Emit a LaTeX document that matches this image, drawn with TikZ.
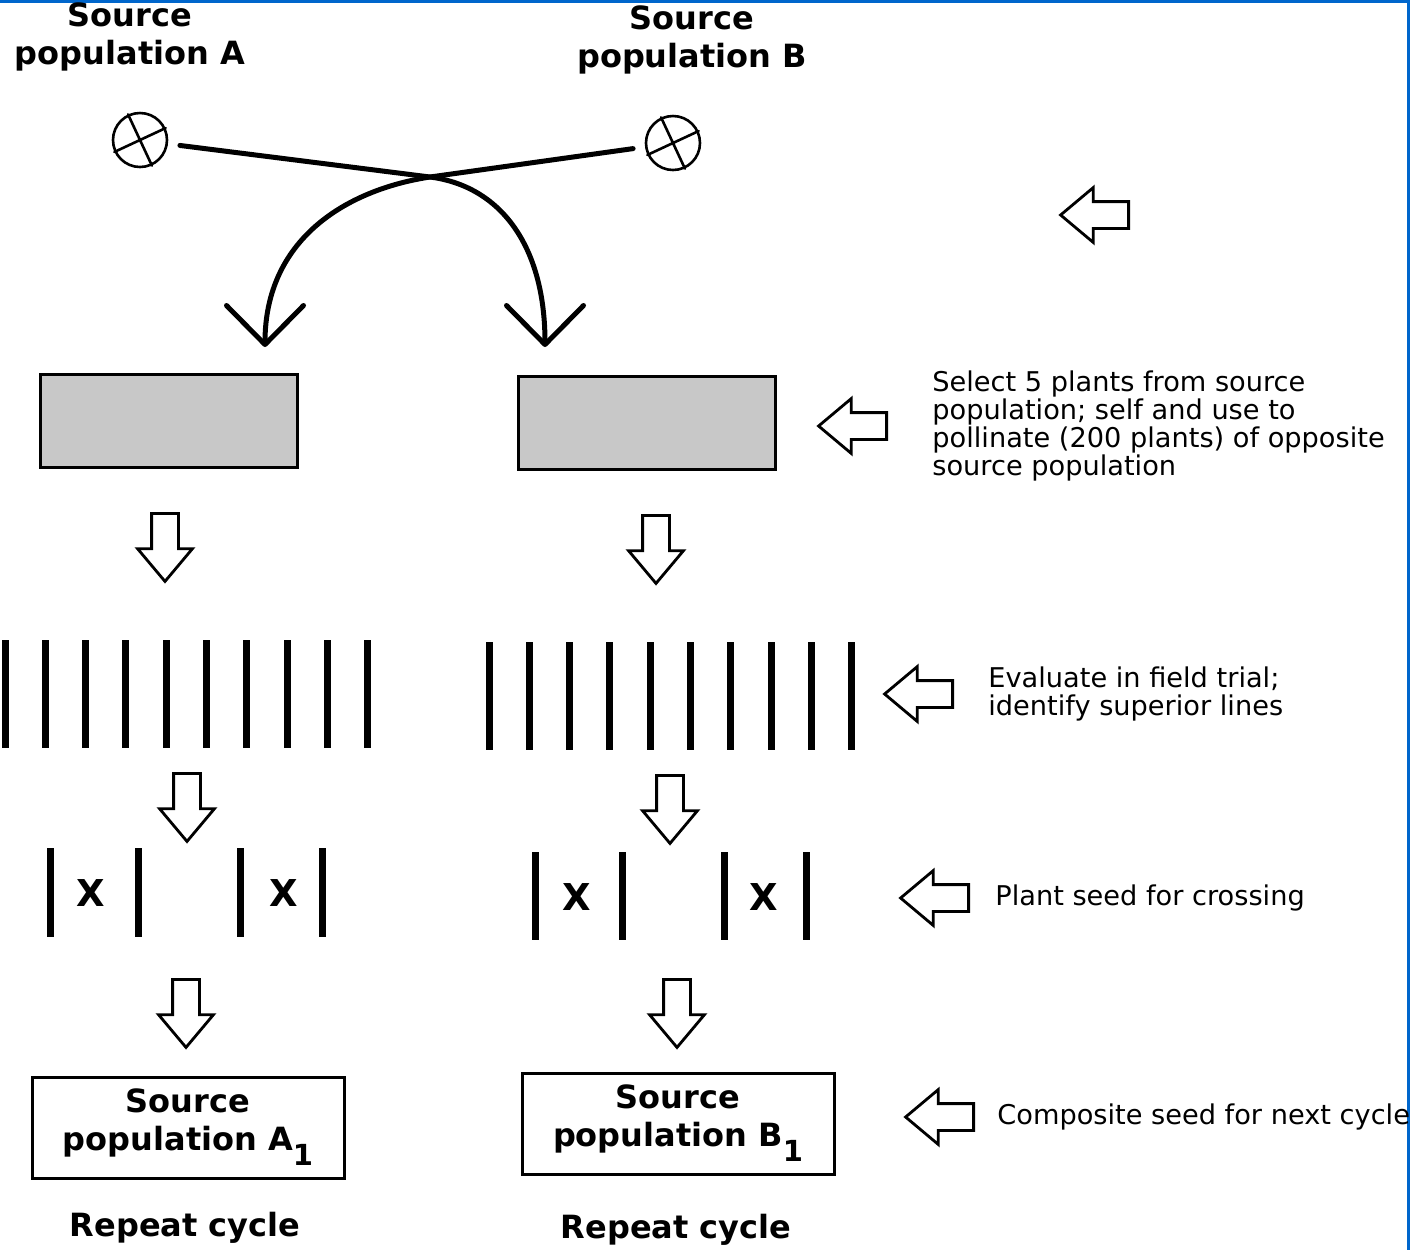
\documentclass[tikz,border=0pt]{standalone}
\usepackage{xcolor}
\usepackage{fontspec}
\setmainfont{DejaVu Sans}
\usepackage{tikz}
\usetikzlibrary{arrows.meta, positioning, shapes.arrows}

\definecolor{boxgray}{RGB}{200,200,200}
\definecolor{frameblue}{RGB}{0,102,204}

\begin{document}
\begin{tikzpicture}[x=0.5pt, y=-0.5pt, line cap=round,
    heading/.style={font=\bfseries\fontsize{16}{19}\selectfont, align=center, inner sep=0pt},
    note/.style={font=\fontsize{13.6}{14}\selectfont, align=left, inner sep=0pt},
    selfed/.style={circle, draw, line width=1.3pt, minimum size=27pt, inner sep=0pt},
    seedbox/.style={draw, fill=boxgray, line width=1.5pt, minimum width=128.5pt, minimum height=46.5pt, inner sep=0pt},
    popbox/.style={draw, line width=1.5pt, minimum width=156pt, minimum height=50.5pt, inner sep=0pt, heading},
    hollow/.style={single arrow, draw, line width=1.4pt, inner sep=6pt, minimum height=34pt, single arrow head extend=7pt, single arrow tip angle=80, anchor=tail},
    downarrow/.style={hollow, shape border rotate=270},
    sidearrow/.style={hollow, shape border rotate=180},
    bar/.style={line width=3.5pt, line cap=butt},
    pollen/.style={line width=2.5pt, shorten <=6pt, -{Straight Barb[round, length=19.5pt, width=38.5pt]}},
    crossmark/.style={font=\bfseries\fontsize{18.5}{18.5}\selectfont, inner sep=0pt}]
    \useasboundingbox (0,0) rectangle (1410,1250);

    % frame lines
    \draw[frameblue, line width=1.5pt, line cap=butt] (0,1.5) -- (1410,1.5);
    \draw[frameblue, line width=1.5pt, line cap=butt] (1408.5,0) -- (1408.5,1250);

    \node[heading] (titleA) at (130,37) {Source\\population A};
    \node[heading] (titleB) at (692,40) {Source\\population B};

    \node[selfed] (crossA) at (140,140) {};
    \node[selfed] (crossB) at (673,143) {};
    \draw[line width=1.3pt] (crossA.115) -- (crossA.-65) (crossA.25) -- (crossA.205);
    \draw[line width=1.3pt] (crossB.115) -- (crossB.-65) (crossB.25) -- (crossB.205);

    \node[seedbox] (boxA) at (169,420.5) {};
    \node[seedbox] (boxB) at (646.5,422.5) {};

    \coordinate (meet) at (430,177);
    \coordinate (tipA) at (265,347);
    \coordinate (tipB) at (545,347);
    \draw[pollen] (crossA.-8) -- (meet) .. controls (500,186) and (545,245) .. (tipB);
    \draw[pollen] (crossB.188) -- (meet) .. controls (345,190) and (265,240) .. (tipA);

    % down arrows
    \node[downarrow] (dA1) at (165,512) {};
    \node[downarrow] (dB1) at (656,514) {};
    \node[downarrow] (dA2) at (187,772) {};
    \node[downarrow] (dB2) at (670,774) {};
    \node[downarrow] (dA3) at (186,978) {};
    \node[downarrow] (dB3) at (677,978) {};

    % field trial rows
    \foreach \i in {0,...,9} {
        \draw[bar] (5+40.3*\i,640) -- ++(0,108);
        \draw[bar] (489+40.3*\i,642) -- ++(0,108);
    }

    % crossing pairs
    \foreach \x in {50,138,240,322} \draw[bar] (\x,848) -- ++(0,89);
    \foreach \x in {535,622,724,806} \draw[bar] (\x,852) -- ++(0,88);
    \node[crossmark] (xA1) at (91,893) {X};
    \node[crossmark] (xA2) at (284,893) {X};
    \node[crossmark] (xB1) at (577,897) {X};
    \node[crossmark] (xB2) at (764,897) {X};

    \node[popbox] (popA) at (188,1127.5) {Source\\population A\raisebox{-7.5pt}{\fontsize{14.5}{14.5}\selectfont 1}};
    \node[popbox] (popB) at (678,1123.5) {Source\\population B\raisebox{-7.5pt}{\fontsize{14.5}{14.5}\selectfont 1}};
    \node[heading] (repA) at (185,1228) {Repeat cycle};
    \node[heading] (repB) at (676,1230) {Repeat cycle};

    % side notes
    \node[sidearrow] (s1) at (1130,215) {};
    \node[sidearrow] (s2) at (888,426) {};
    \node[sidearrow] (s3) at (954,694) {};
    \node[sidearrow] (s4) at (970,898) {};
    \node[sidearrow] (s5) at (975,1117) {};
    \node[note, right=22pt of s2.tail] (selectnote) {Select 5 plants from source\\population; self and use to\\pollinate (200 plants) of opposite\\source population};
    \node[note, right=17pt of s3.tail] (evalnote) {Evaluate in field trial;\\identify superior lines};
    \node[note, right=12.5pt of s4.tail] (plantnote) {Plant seed for crossing};
    \node[note, right=11pt of s5.tail] (compnote) {Composite seed for next cycle};
\end{tikzpicture}
\end{document}
